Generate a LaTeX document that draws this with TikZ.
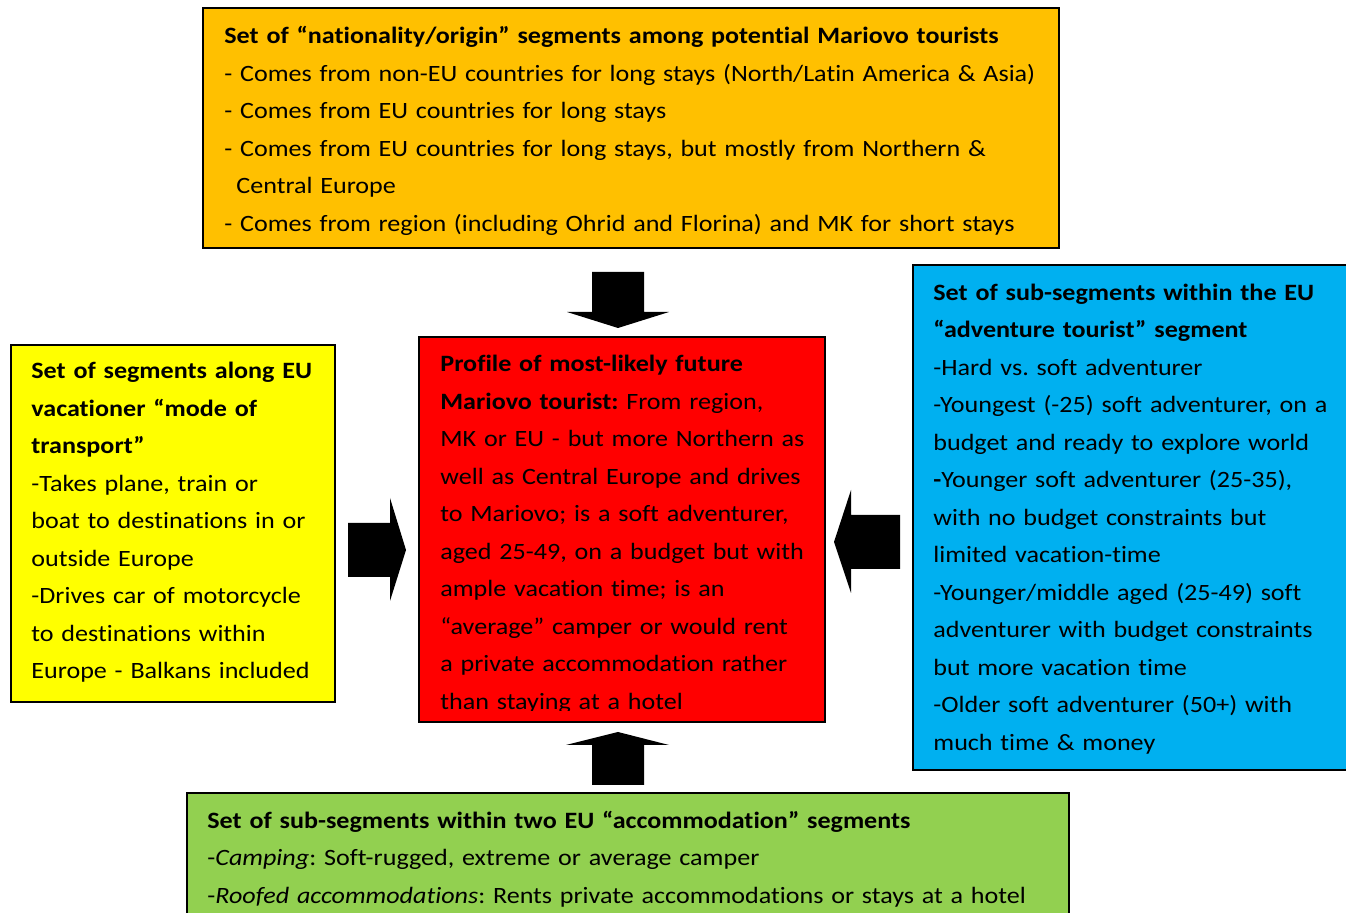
\documentclass[tikz,border=0pt]{standalone}
\usepackage{fontspec}
\setmainfont{Carlito}[Ligatures=NoCommon, FakeStretch=1.115]
\usepackage{tikz}
\usetikzlibrary{calc}
\frenchspacing
\definecolor{originbg}{HTML}{FFC000}
\definecolor{profilebg}{HTML}{FF0000}
\definecolor{transportbg}{HTML}{FFFF00}
\definecolor{adventurebg}{HTML}{00B0F0}
\definecolor{lodgingbg}{HTML}{92D050}
\newcommand{\segfont}{\fontsize{11.7}{18.75}\selectfont}
\tikzset{segtext/.style={anchor=base west, inner sep=0pt, align=left, text width=520pt, font=\segfont}}

\begin{document}
\begin{tikzpicture}[x=0.5pt, y=-0.5pt]
			%%%%% START %%%%%
			\useasboundingbox (0, 0) rectangle (1346, 913);
			
			\draw[line width=1pt, fill=originbg] (203, 8) rectangle (1059, 248);
			\node[segtext] (origin) at (224, 43.8) {\textbf{Set of “nationality/origin” segments among potential Mariovo tourists}\\
				- Comes from non-EU countries for long stays (North/Latin America \& Asia)\\
				- Comes from EU countries for long stays\\
				- Comes from EU countries for long stays, but mostly from Northern \&\\
				\hspace*{6pt}Central Europe\\
				- Comes from region (including Ohrid and Florina) and MK for short stays};
			
			\draw[line width=1pt, fill=profilebg] (419, 337) rectangle (825, 722);
			\begin{scope}
				\clip (419, 337) rectangle (825, 711);
				\node[segtext] (profile) at (440, 372) {\textbf{Profile of most-likely future}\\
					\textbf{Mariovo tourist:} From region,\\
					MK or EU - but more Northern as\\
					well as Central Europe and drives\\
					to Mariovo; is a soft adventurer,\\
					aged 25-49, on a budget but with\\
					ample vacation time; is an\\
					“average” camper or would rent\\
					a private accommodation rather\\
					than staying at a hotel};
			\end{scope}
			
			\draw[line width=1pt, fill=transportbg] (11, 345) rectangle (335, 702);
			\node[segtext] (transport) at (31, 379) {\textbf{Set of segments along EU}\\
				\textbf{vacationer “mode of}\\
				\textbf{transport”}\\
				-Takes plane, train or\\
				boat to destinations in or\\
				outside Europe\\
				-Drives car of motorcycle\\
				to destinations within\\
				Europe - Balkans included};
			
			\draw[line width=1pt, fill=adventurebg] (913, 265) rectangle (1360, 770);
			\node[segtext] (adventure) at (933, 300.5) {\textbf{Set of sub-segments within the EU}\\
				\textbf{“adventure tourist” segment}\\
				-Hard vs. soft adventurer\\
				-Youngest (-25) soft adventurer, on a\\
				budget and ready to explore world\\
				\textbf{-}Younger soft adventurer (25-35),\\
				with no budget constraints but\\
				limited vacation-time\\
				-Younger/middle aged (25-49) soft\\
				adventurer with budget constraints\\
				but more vacation time\\
				-Older soft adventurer (50+) with\\
				much time \& money};
			
			\draw[line width=1pt, fill=lodgingbg] (187, 793) rectangle (1069, 930);
			\node[segtext] (lodging) at (207, 828.5) {\textbf{Set of sub-segments within two EU “accommodation” segments}\\
				-\textit{Camping}: Soft-rugged, extreme or average camper\\
				-\textit{Roofed accommodations}: Rents private accommodations or stays at a hotel};
			
			% block arrows
			\fill (592, 272) -- (644, 272) -- (644, 312) -- (669, 312) -- (618, 328) -- (567, 312) -- (592, 312) -- cycle;
			\fill (592, 785) -- (644, 785) -- (644, 745) -- (669, 745) -- (618, 732) -- (566, 745) -- (592, 745) -- cycle;
			\fill (348, 523) -- (390, 523) -- (390, 498) -- (406, 550) -- (390, 601) -- (390, 577) -- (348, 577) -- cycle;
			\fill (900, 515) -- (851, 515) -- (851, 490) -- (834, 542) -- (851, 593) -- (851, 569) -- (900, 569) -- cycle;
			
			%%%%% END %%%%%
		\end{tikzpicture}
\end{document}
